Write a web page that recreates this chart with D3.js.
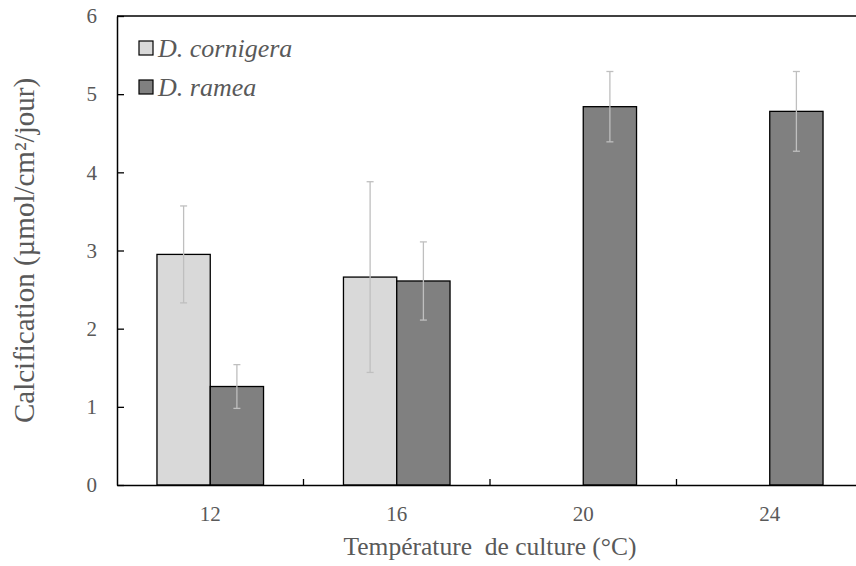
<!DOCTYPE html>
<html>
<head>
<meta charset="utf-8">
<script src="https://cdn.jsdelivr.net/npm/d3@7"></script>
<style>
  body { margin: 0; background: #fff; }
</style>
</head>
<body>
<svg id="chart" width="856" height="566"></svg>
<script>
const categories = ['12', '16', '20', '24'];
const series = ['D. cornigera', 'D. ramea'];
const cornigera = [2.95, 2.66, null, null];
const cornigeraErr = [0.62, 1.22, null, null];
const ramea = [1.26, 2.61, 4.84, 4.78];
const rameaErr = [0.28, 0.5, 0.45, 0.51];
const yTicks = [0, 1, 2, 3, 4, 5, 6];
const fills = ['#d9d9d9', '#808080'];

const FONT = '"Liberation Serif", "Times New Roman", serif';
const TEXT = '#595959';

const svg = d3.select('#chart');
const margin = { top: 16, right: -7, bottom: 81, left: 117 };
const width = 856 - margin.left - margin.right;
const height = 566 - margin.top - margin.bottom;

const x = d3.scaleBand().domain(categories).range([margin.left, margin.left + width]);
const xs = d3.scaleBand().domain(series).range([0, x.bandwidth()]).paddingOuter(0.75);
const y = d3.scaleLinear().domain([0, 6]).range([margin.top + height, margin.top]);

const rows = [];
categories.forEach((c, i) => {
  [[cornigera, cornigeraErr], [ramea, rameaErr]].forEach(([vals, errs], s) => {
    if (vals[i] != null) rows.push({ cat: c, s: series[s], fill: fills[s], v: vals[i], e: errs[i] });
  });
});

// bars
svg.append('g').selectAll('rect').data(rows).join('rect')
  .attr('x', (d) => x(d.cat) + xs(d.s))
  .attr('y', (d) => y(d.v))
  .attr('width', xs.bandwidth())
  .attr('height', (d) => y(0) - y(d.v))
  .attr('fill', (d) => d.fill)
  .attr('stroke', '#000')
  .attr('stroke-width', 1.3);

// error bars
const err = svg.append('g').attr('stroke', '#bfbfbf').attr('stroke-width', 1.3)
  .selectAll('g').data(rows).join('g')
  .attr('transform', (d) => `translate(${x(d.cat) + xs(d.s) + xs.bandwidth() / 2},0)`);
err.append('line').attr('y1', (d) => y(d.v + d.e)).attr('y2', (d) => y(d.v - d.e));
err.append('line').attr('x1', -3.5).attr('x2', 3.5)
  .attr('y1', (d) => y(d.v + d.e)).attr('y2', (d) => y(d.v + d.e));
err.append('line').attr('x1', -3.5).attr('x2', 3.5)
  .attr('y1', (d) => y(d.v - d.e)).attr('y2', (d) => y(d.v - d.e));

// axes
const yAxis = svg.append('g')
  .attr('transform', `translate(${margin.left},0)`)
  .call(d3.axisLeft(y).tickValues(yTicks).tickFormat(d3.format('d'))
    .tickSizeInner(-7).tickSizeOuter(0).tickPadding(20));
const xAxis = svg.append('g')
  .attr('transform', `translate(0,${y(0)})`)
  .call(d3.axisBottom(x).tickSize(0).tickPadding(21));
[yAxis, xAxis].forEach((g) => {
  g.attr('font-family', FONT).attr('font-size', 21);
  g.select('.domain').attr('stroke', '#000').attr('stroke-width', 1.5);
  g.selectAll('.tick line').attr('stroke', '#000').attr('stroke-width', 1.3);
  g.selectAll('text').attr('fill', TEXT);
});

// category separators on x axis
svg.append('g').selectAll('line').data(categories.slice(1)).join('line')
  .attr('x1', (d) => x(d)).attr('x2', (d) => x(d))
  .attr('y1', y(0)).attr('y2', y(0) - 6)
  .attr('stroke', '#000').attr('stroke-width', 1.3);

// top border
svg.append('line')
  .attr('x1', margin.left).attr('x2', margin.left + width)
  .attr('y1', margin.top).attr('y2', margin.top)
  .attr('stroke', '#000').attr('stroke-width', 1.5);

// axis titles
svg.append('text')
  .attr('x', margin.left + width / 2).attr('y', 555)
  .attr('text-anchor', 'middle')
  .attr('font-family', FONT).attr('font-size', 25.5).attr('fill', TEXT)
  .attr('xml:space', 'preserve')
  .text('Température\u00a0 de culture (°C)');
svg.append('text')
  .attr('transform', `translate(34,${margin.top + height / 2}) rotate(-90)`)
  .attr('text-anchor', 'middle')
  .attr('font-family', FONT).attr('font-size', 29).attr('fill', TEXT)
  .text('Calcification (µmol/cm²/jour)');

// legend
const legend = svg.append('g').selectAll('g').data(series).join('g')
  .attr('transform', (d, i) => `translate(139,${41 + i * 39})`);
legend.append('rect')
  .attr('width', 14).attr('height', 14)
  .attr('fill', (d, i) => fills[i])
  .attr('stroke', '#000').attr('stroke-width', 1.2);
legend.append('text')
  .attr('x', 19).attr('y', 16)
  .attr('font-family', FONT).attr('font-size', 26).attr('font-style', 'italic')
  .attr('fill', TEXT)
  .text((d) => d);
</script>
</body>
</html>
